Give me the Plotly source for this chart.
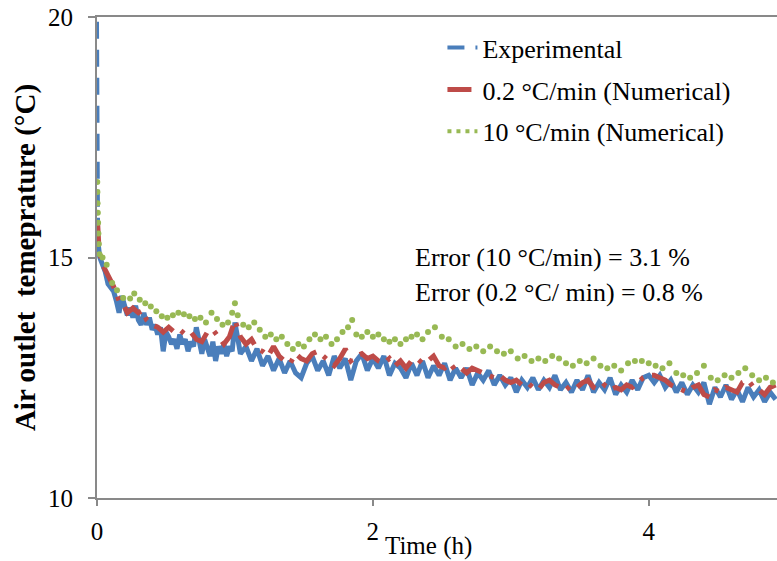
import plotly.graph_objects as go

# ---- Experimental (blue) ----
exp_start_t = [0.0, 0.004, 0.008]
exp_start_y = [19.9, 17.2, 15.3]

exp_t = [0.008, 0.02, 0.04, 0.06, 0.08, 0.10, 0.12, 0.14, 0.16, 0.18, 0.20, 0.22, 0.24, 0.26, 0.28, 0.30,
         0.32, 0.34, 0.36, 0.38, 0.40, 0.42, 0.44, 0.46, 0.48, 0.50, 0.52, 0.54, 0.56, 0.58,
         0.60, 0.62, 0.64, 0.66, 0.68, 0.70, 0.72, 0.74, 0.76, 0.78, 0.80, 0.82, 0.84, 0.86,
         0.88, 0.90, 0.92, 0.94, 0.96, 0.98, 1.00, 1.04, 1.08, 1.12,
         1.16, 1.20, 1.24, 1.28, 1.32, 1.36, 1.40, 1.44, 1.48, 1.52, 1.56, 1.60, 1.64, 1.68,
         1.72, 1.76, 1.80, 1.84, 1.88, 1.92, 1.96, 2.00, 2.04, 2.08, 2.12, 2.16, 2.20, 2.24,
         2.28, 2.32, 2.36, 2.40, 2.44, 2.48, 2.52, 2.56, 2.60, 2.64, 2.68, 2.72, 2.76, 2.80,
         2.84, 2.88, 2.92, 2.96, 3.00, 3.04, 3.08, 3.12, 3.16, 3.20, 3.24, 3.28, 3.32, 3.36,
         3.40, 3.44, 3.48, 3.52, 3.56, 3.60, 3.64, 3.68, 3.72, 3.76, 3.80, 3.84, 3.88, 3.92,
         3.96, 4.00, 4.04, 4.08, 4.12, 4.16, 4.20, 4.24, 4.28, 4.32, 4.36, 4.40, 4.44, 4.48,
         4.52, 4.56, 4.60, 4.64, 4.68, 4.72, 4.76, 4.80, 4.84, 4.88, 4.92]
exp_y = [15.3, 15.0, 14.85, 14.7, 14.45, 14.35, 14.3, 14.1, 13.85, 14.2, 14.0, 13.8, 13.95, 13.75, 14.0, 13.7,
         13.6, 13.85, 13.6, 13.75, 13.5, 13.6, 13.4, 13.55, 13.05, 13.45, 13.35, 13.2, 13.3, 13.1,
         13.4, 13.2, 13.3, 13.05, 13.25, 13.15, 13.55, 13.2, 13.0, 13.3, 13.15, 12.95, 13.25, 12.85,
         13.15, 13.0, 13.2, 12.95, 13.15, 13.05, 13.65, 13.0, 13.15, 12.85,
         13.1, 12.75, 12.95, 12.65, 12.9, 12.6, 12.85, 12.6, 12.5, 12.8, 12.95, 12.65, 12.85, 12.55,
         12.95, 12.7, 12.9, 12.45, 12.85, 13.0, 12.65, 12.9, 12.7, 12.95, 12.55, 12.8, 12.7, 12.5,
         12.8, 12.55, 12.85, 12.5, 12.75, 12.55, 12.8, 12.45, 12.7, 12.5, 12.7, 12.35, 12.6, 12.45,
         12.65, 12.35, 12.55, 12.35, 12.5, 12.2, 12.45, 12.3, 12.5, 12.25, 12.45, 12.3, 12.55, 12.25,
         12.4, 12.2, 12.45, 12.25, 12.55, 12.2, 12.4, 12.25, 12.5, 12.15, 12.35, 12.2, 12.45, 12.25,
         12.5, 12.55, 12.4, 12.55, 12.3, 12.45, 12.2, 12.4, 12.15, 12.35, 12.2, 12.4, 11.95, 12.3,
         12.1, 12.35, 12.05, 12.25, 12.0, 12.3, 12.1, 12.25, 12.0, 12.2, 12.05]

# ---- 0.2 C/min numerical (red) ----
red_t = [0.004, 0.01, 0.015, 0.04, 0.07, 0.12, 0.16, 0.20, 0.22, 0.26, 0.30, 0.33, 0.36, 0.40, 0.44,
         0.48, 0.52, 0.56, 0.60, 0.64, 0.68, 0.72, 0.76, 0.80, 0.84, 0.88, 0.92, 0.96, 1.00,
         1.04, 1.08, 1.12, 1.16, 1.20, 1.24, 1.28, 1.32, 1.36, 1.40, 1.44, 1.48, 1.52, 1.56,
         1.60, 1.64, 1.68, 1.72, 1.76, 1.80, 1.84, 1.88, 1.92, 1.96, 2.00, 2.04, 2.08, 2.12,
         2.16, 2.20, 2.24, 2.28, 2.32, 2.36, 2.40, 2.44, 2.48, 2.52, 2.56, 2.60, 2.64, 2.68,
         2.72, 2.76, 2.80, 2.84, 2.88, 2.92, 2.96, 3.00, 3.04, 3.08, 3.12, 3.16, 3.20, 3.24,
         3.28, 3.32, 3.36, 3.40, 3.44, 3.48, 3.52, 3.56, 3.60, 3.64, 3.68, 3.72, 3.76, 3.80,
         3.84, 3.88, 3.92, 3.96, 4.00, 4.04, 4.08, 4.12, 4.16, 4.20, 4.24, 4.28, 4.32, 4.36,
         4.40, 4.44, 4.48, 4.52, 4.56, 4.60, 4.64, 4.68, 4.72, 4.76, 4.80, 4.84, 4.88, 4.92]
red_y = [15.75, 15.4, 15.15, 14.85, 14.7, 14.4, 14.1, 13.97, 13.85, 13.95, 13.85, 13.9, 13.7, 13.6, 13.55,
         13.45, 13.55, 13.45, 13.5, 13.4, 13.45, 13.3, 13.25, 13.45, 13.5, 13.35, 13.2, 13.35, 13.7,
         13.35, 13.2, 13.3, 13.1, 13.05, 12.95, 13.15, 12.95, 12.85, 12.8, 13.0, 12.9, 12.85, 13.0,
         13.05, 12.95, 12.85, 12.75, 12.9, 13.1, 12.85, 12.95, 13.0, 12.9, 12.95, 12.85, 12.8, 12.9,
         12.75, 12.85, 12.7, 12.85, 12.9, 12.8, 12.85, 12.95, 12.75, 12.7, 12.8, 12.65, 12.7, 12.6,
         12.7, 12.65, 12.6, 12.55, 12.5, 12.55, 12.45, 12.4, 12.45, 12.35, 12.4, 12.3, 12.25, 12.4,
         12.45, 12.35, 12.3, 12.25, 12.35, 12.3, 12.4, 12.45, 12.3, 12.25, 12.35, 12.25, 12.3, 12.25,
         12.35, 12.3, 12.4, 12.5, 12.55, 12.55, 12.5, 12.45, 12.35, 12.3, 12.25, 12.2, 12.3, 12.35,
         12.15, 12.1, 12.25, 12.2, 12.3, 12.25, 12.2, 12.4, 12.45, 12.3, 12.25, 12.15, 12.3, 12.35]

# ---- 10 C/min numerical (green) ----
grn_t = [0.002, 0.003, 0.004, 0.006, 0.008, 0.010, 0.013, 0.018, 0.04, 0.07, 0.11, 0.145, 0.19, 0.24,
         0.27, 0.31, 0.35, 0.39, 0.43, 0.47, 0.51, 0.55, 0.59, 0.63, 0.67, 0.71, 0.75, 0.79,
         0.83, 0.87, 0.91, 0.95, 0.98, 1.00, 1.02, 1.06, 1.10, 1.14, 1.18, 1.22, 1.26, 1.30,
         1.34, 1.38, 1.42, 1.46, 1.50, 1.54, 1.58, 1.62, 1.66, 1.70, 1.74, 1.78, 1.82, 1.85,
         1.88, 1.92, 1.96, 2.00, 2.04, 2.08, 2.12, 2.16, 2.20, 2.24, 2.28, 2.32, 2.36, 2.40,
         2.45, 2.50, 2.55, 2.60, 2.65, 2.70, 2.75, 2.80, 2.85, 2.90, 2.95, 3.00, 3.05, 3.10,
         3.15, 3.20, 3.25, 3.30, 3.35, 3.40, 3.45, 3.50, 3.55, 3.60, 3.65, 3.70, 3.75, 3.80,
         3.85, 3.90, 3.95, 4.00, 4.05, 4.10, 4.15, 4.20, 4.25, 4.30, 4.35, 4.40, 4.45, 4.50,
         4.55, 4.60, 4.65, 4.70, 4.75, 4.80, 4.85, 4.90]
grn_y = [16.57, 16.36, 16.13, 15.93, 15.72, 15.5, 15.28, 15.07, 15.0, 14.85, 14.47, 14.32, 14.16, 14.15,
         14.25, 14.12, 14.05, 13.98, 13.88, 13.78, 13.75, 13.8, 13.85, 13.82, 13.78, 13.72, 13.75, 13.65,
         13.85, 13.72, 13.6, 13.65, 13.85, 14.05, 13.8, 13.6, 13.55, 13.65, 13.5, 13.35, 13.4, 13.3,
         13.35, 13.2, 13.1, 13.2, 13.15, 13.3, 13.4, 13.3, 13.35, 13.2, 13.3, 13.45, 13.55, 13.7,
         13.4, 13.35, 13.45, 13.35, 13.4, 13.3, 13.25, 13.3, 13.2, 13.3, 13.35, 13.4, 13.3, 13.45,
         13.55, 13.35, 13.3, 13.15, 13.2, 13.1, 13.15, 13.05, 13.15, 13.05, 13.0, 13.05, 12.9, 12.95,
         12.85, 12.9, 12.85, 12.95, 12.9, 12.8, 12.75, 12.85, 12.8, 12.9, 12.75, 12.7, 12.75, 12.65,
         12.8, 12.85, 12.85, 12.8, 12.75, 12.7, 12.8, 12.6, 12.55, 12.5, 12.6, 12.75, 12.5, 12.45,
         12.55, 12.5, 12.6, 12.7, 12.55, 12.45, 12.5, 12.4]

BLUE = "#4a7ebb"
RED = "#be4b48"
GREEN = "#98b954"
FONT = "Liberation Serif"

fig = go.Figure()
fig.add_trace(go.Scatter(x=exp_start_t, y=exp_start_y, mode="lines", name="Experimental",
                         legendgroup="exp", line=dict(color=BLUE, width=4, dash="17px,11px")))
fig.add_trace(go.Scatter(x=exp_t, y=exp_y, mode="lines", name="Experimental", showlegend=False,
                         legendgroup="exp", line=dict(color=BLUE, width=5)))
fig.add_trace(go.Scatter(x=red_t, y=red_y, mode="lines", name="0.2 °C/min (Numerical)",
                         legendgroup="red", line=dict(color=RED, width=5, dash="24px,9px,4px,9px")))
fig.add_trace(go.Scatter(x=grn_t, y=grn_y, mode="markers", name="10 °C/min (Numerical)",
                         showlegend=False, legendgroup="grn",
                         marker=dict(color=GREEN, size=6)))
fig.add_trace(go.Scatter(x=[None], y=[None], mode="lines", name="10 °C/min (Numerical)",
                         legendgroup="grn", line=dict(color=GREEN, width=4, dash="4px,5px")))

fig.update_layout(
    width=777, height=561,
    margin=dict(l=97, r=0, t=17, b=63),
    plot_bgcolor="white", paper_bgcolor="white",
    font=dict(family=FONT, size=26, color="black"),
    showlegend=True,
    legend=dict(x=0.508, y=0.985, xanchor="left", yanchor="top", bgcolor="rgba(0,0,0,0)",
                font=dict(family=FONT, size=26), tracegroupgap=5, traceorder="grouped"),
    annotations=[
        dict(text="Error (10 °C/min) = 3.1 %", xref="paper", yref="paper", x=0.465, y=0.499,
             xanchor="left", yanchor="middle", showarrow=False, font=dict(family=FONT, size=26)),
        dict(text="Error (0.2 °C/ min) = 0.8 %", xref="paper", yref="paper", x=0.465, y=0.428,
             xanchor="left", yanchor="middle", showarrow=False, font=dict(family=FONT, size=26)),
        dict(text="Time (h)", xref="paper", yref="paper", x=0.488, y=-0.1,
             xanchor="center", yanchor="middle", showarrow=False, font=dict(family=FONT, size=25)),
    ],
)
fig.update_xaxes(range=[0, 4.93], tickvals=[0, 2, 4], ticks="outside", ticklen=6, tickwidth=2,
                 tickcolor="#898989", showline=True, linecolor="#898989", linewidth=2, mirror=True,
                 showgrid=False, zeroline=False, ticklabelstandoff=4,
                 tickfont=dict(family=FONT, size=25, color="black"))
fig.update_yaxes(range=[10, 20], tickvals=[10, 15, 20], ticks="outside", ticklen=7, tickwidth=2,
                 tickcolor="#898989", showline=True, linecolor="#898989", linewidth=2,
                 showgrid=False, zeroline=False, ticklabelstandoff=10,
                 tickfont=dict(family=FONT, size=25, color="black"),
                 title=dict(text="Air outlet\u00a0 temeprature (°C)", standoff=4,
                            font=dict(family=FONT, size=29, color="black", weight="bold")))

fig.write_html("out.html")
